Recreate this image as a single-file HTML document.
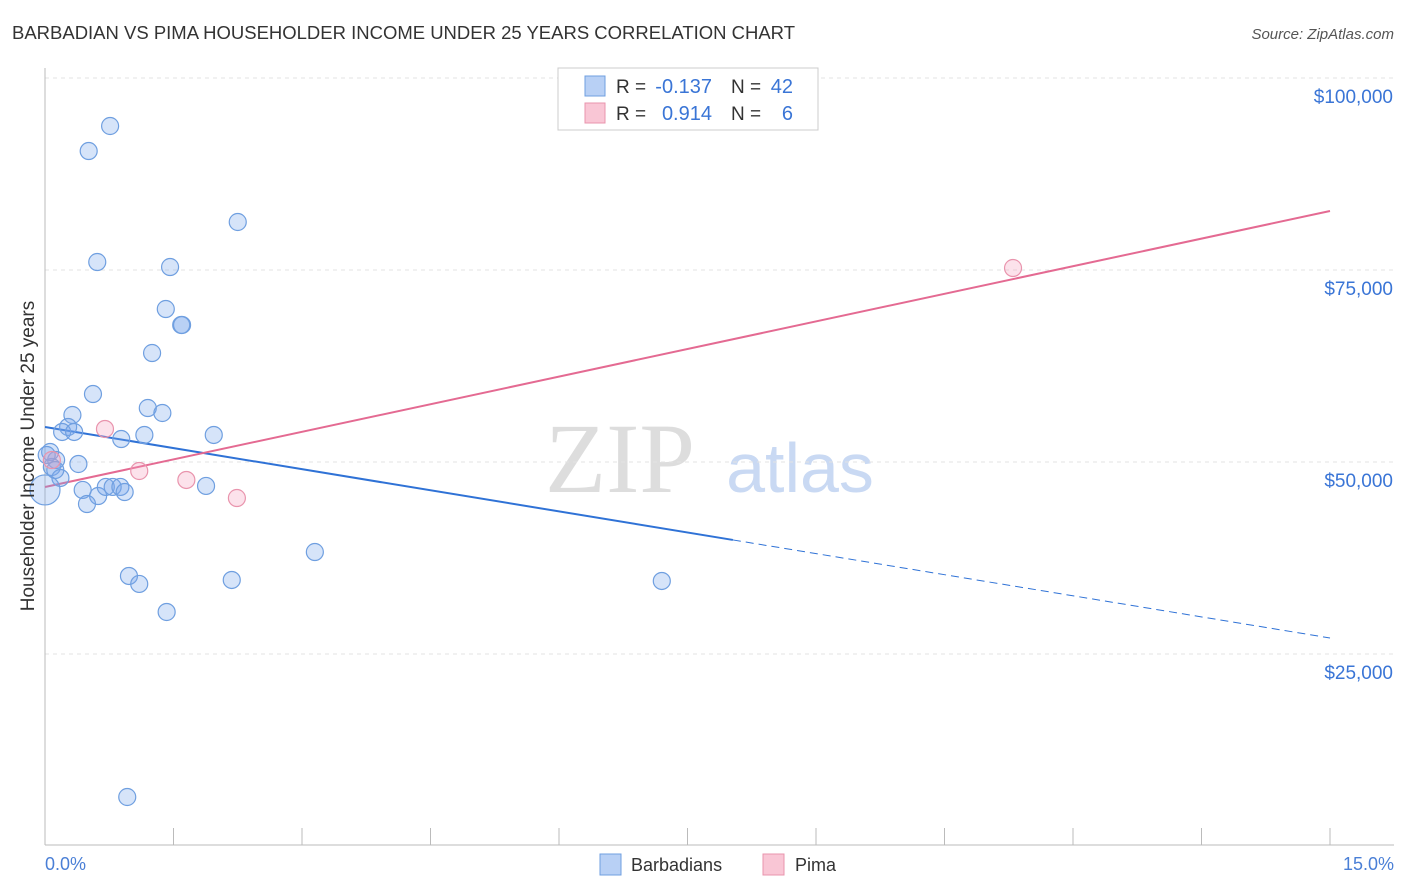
<!DOCTYPE html>
<html><head><meta charset="utf-8"><style>
body{margin:0;background:#fff;font-family:"Liberation Sans",sans-serif;}
svg{display:block}
</style></head><body>
<svg id="chart" width="1406" height="892">
<text x="12" y="39" font-size="18" fill="#333" textLength="783" lengthAdjust="spacingAndGlyphs">BARBADIAN VS PIMA HOUSEHOLDER INCOME UNDER 25 YEARS CORRELATION CHART</text>
<text x="1394" y="39" font-size="15" fill="#555" font-style="italic" text-anchor="end">Source: ZipAtlas.com</text>
<text x="620" y="492" font-size="100" fill="#ddd" font-family="Liberation Serif" text-anchor="middle">ZIP</text>
<text x="800" y="492" font-size="70" fill="#c9d9f3" text-anchor="middle">atlas</text>
<g id="grid"></g><g id="axes"></g><g id="lines"></g><g id="pts"></g>
<text transform="translate(34,456) rotate(-90)" font-size="19" fill="#333" text-anchor="middle">Householder Income Under 25 years</text>
<text x="45" y="870" font-size="18" fill="#4a7fd6">0.0%</text>
<text x="1394" y="870" font-size="18" fill="#4a7fd6" text-anchor="end">15.0%</text>
<g>
<rect x="558" y="68" width="260" height="62" fill="#fff" stroke="#ccc"/>
<rect x="585" y="76" width="20" height="20" fill="#b8d0f5" stroke="#6f9fe0"/>
<rect x="585" y="103" width="20" height="20" fill="#f9c6d5" stroke="#e994ad"/>
<text x="616" y="93" font-size="19" fill="#333">R =</text>
<text x="712" y="93" font-size="20" fill="#3a75d6" text-anchor="end">-0.137</text>
<text x="731" y="93" font-size="19" fill="#333">N =</text>
<text x="793" y="93" font-size="20" fill="#3a75d6" text-anchor="end">42</text>
<text x="616" y="120" font-size="19" fill="#333">R =</text>
<text x="712" y="120" font-size="20" fill="#3a75d6" text-anchor="end">0.914</text>
<text x="731" y="120" font-size="19" fill="#333">N =</text>
<text x="793" y="120" font-size="20" fill="#3a75d6" text-anchor="end">6</text>
</g>
<g>
<rect x="600" y="854" width="21" height="21" fill="#b8d0f5" stroke="#6f9fe0"/>
<text x="631" y="871" font-size="18" fill="#333">Barbadians</text>
<rect x="763" y="854" width="21" height="21" fill="#f9c6d5" stroke="#e994ad"/>
<text x="795" y="871" font-size="18" fill="#333">Pima</text>
</g>
</svg>
<script>
const blueX=[0.76,0.51,2.25,0.61,1.46,1.41,1.59,1.60,1.25,0.56,0.32,1.20,1.37,0.27,0.20,0.34,0.89,1.16,1.97,0.06,0.13,0.39,0.08,0.18,0.44,0.62,0.49,0.71,0.79,0.88,0.93,1.88,0.0,3.15,0.98,1.10,2.18,1.42,7.20,0.96,0.12,0.02];
const blueY=[93750,90490,81250,76040,75390,69920,67840,67840,64190,58850,56120,57030,56380,54560,53910,53910,52990,53520,53520,51300,50260,49740,49350,47920,46360,45570,44530,46750,46750,46750,46090,46880,46360,38280,35160,34120,34640,30470,34510,6380,48960,50910];
const pinkX=[0.08,0.70,1.10,1.65,2.24,11.30];
const pinkY=[50260,54300,48830,47660,45310,75260];
const yTicks=[25000,50000,75000,100000];
const yTickLabels=["$25,000","$50,000","$75,000","$100,000"];
const blueTrend=[54560,27085]; const blueSolidEnd=8.03;
const pinkTrend=[46745,82680];
const X=v=>45+v/15*1285, Y=v=>462-(v-50000)*192/25000;
const NS="http://www.w3.org/2000/svg";
function mk(p,t,a){const e=document.createElementNS(NS,t);for(const k in a)e.setAttribute(k,a[k]);document.getElementById(p).appendChild(e);return e;}
yTicks.forEach((t,i)=>{
 const l=mk('grid','line',{x1:45,x2:1394,y1:Y(t),y2:Y(t),stroke:'#e3e3e3','stroke-dasharray':'4,4'});
 
 
 const tx=mk('grid','text',{x:1393,y:Y(t)+25,'font-size':19,fill:'#3a75d6','text-anchor':'end'});
 tx.textContent=yTickLabels[i];
 
 
});
const ax=mk('axes','line',{x1:45,x2:45,y1:68,y2:845,stroke:'#bbb'});


const bx=mk('axes','line',{x1:45,x2:1394,y1:845,y2:845,stroke:'#bbb'});


for(let i=0;i<=10;i++){const t=mk('axes','line',{x1:X(i*1.5),x2:X(i*1.5),y1:828,y2:845,stroke:'#bbb'});
 
 }
const by=x=>blueTrend[0]+(blueTrend[1]-blueTrend[0])*x/15;
let l1=mk('lines','line',{x1:X(0),y1:Y(by(0)),x2:X(blueSolidEnd),y2:Y(by(blueSolidEnd)),stroke:'#2f72d6','stroke-width':2});


let l2=mk('lines','line',{x1:X(blueSolidEnd),y1:Y(by(blueSolidEnd)),x2:X(15),y2:Y(by(15)),stroke:'#2f72d6','stroke-width':1,'stroke-dasharray':'8,5'});


let l3=mk('lines','line',{x1:X(0),y1:Y(pinkTrend[0]),x2:X(15),y2:Y(pinkTrend[1]),stroke:'#e46a92','stroke-width':2});


blueX.forEach((x,i)=>{const c=mk('pts','circle',{cx:X(x),cy:Y(blueY[i]),r:x===0?15:8.5,fill:'rgba(120,165,235,0.3)',stroke:'#6f9fe0','stroke-width':1.2});
 
 });
pinkX.forEach((x,i)=>{const c=mk('pts','circle',{cx:X(x),cy:Y(pinkY[i]),r:8.5,fill:'rgba(245,160,190,0.3)',stroke:'#e994ad','stroke-width':1.2});
 
 });
</script>
</body></html>
